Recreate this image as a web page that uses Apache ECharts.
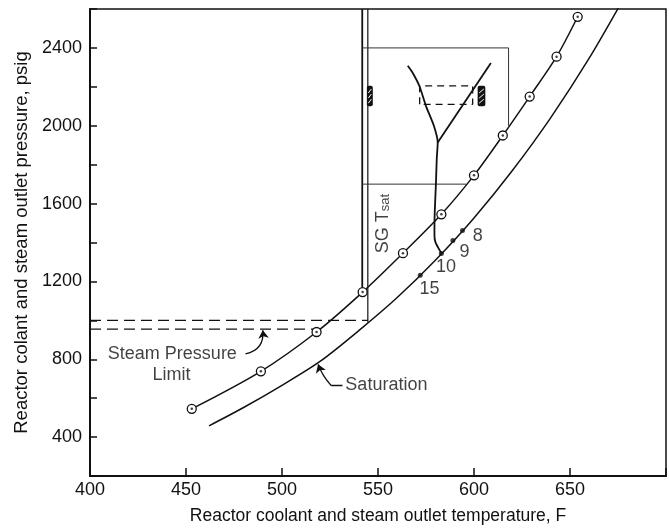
<!DOCTYPE html>
<html>
<head>
<meta charset="utf-8">
<script src="https://cdn.jsdelivr.net/npm/echarts@6/dist/echarts.min.js"></script>
<style>
  html, body { margin: 0; padding: 0; background: #fff; }
  #chart-wrapper { width: 669px; height: 530px; }
</style>
</head>
<body>
<div id="chart-wrapper"></div>
<script>
// reactor coolant outlet curve (circled points)
const upperTemp = [453, 489, 518, 542, 563, 583, 600, 615, 629, 643, 654];
const upperPress = [545, 738, 940, 1145, 1345, 1545, 1745, 1950, 2150, 2355, 2560];

// saturation curve
const satTemp = [462, 480, 500, 520, 540, 560, 580, 600, 620, 640, 660, 680];
const satPress = [458, 552, 666, 790, 947, 1117, 1310, 1526, 1770, 2042, 2347, 2690];

// run points on saturation curve
const runTemp = [572, 583, 589, 594];
const runPress = [1232, 1344, 1410, 1462];

// SG Tsat trace: trunk + left branch, then right branch
const sgLeftTemp = [583, 581.2, 579.8, 579.4, 579.5, 580.2, 580.6, 581.1, 579.1, 575, 571.6, 568.1, 565.5];
const sgLeftPress = [1344, 1376, 1405, 1440, 1540, 1710, 1830, 1914, 2000, 2101, 2203, 2271, 2308];
const sgRightTemp = [581.1, 608.8];
const sgRightPress = [1914, 2322];

// guide lines (solid)
const guideLeftTemp = [541.8, 541.8];
const guideLeftPress = [1145, 2600];
const guideRightTemp = [544.7, 544.7];
const guideRightPress = [990, 2600];
const boxTopTemp = [541.8, 618, 618];
const boxTopPress = [2400, 2400, 2000];
const boxMidTemp = [541.8, 596];
const boxMidPress = [1700, 1700];

// steam pressure limit (dashed)
const limitHiTemp = [400, 544.7];
const limitHiPress = [1000, 1000];
const limitLoTemp = [400, 518];
const limitLoPress = [955, 955];

// dashed window around SG branches
const windowTemp = [571.7, 571.7, 599.3, 599.3, 571.7];
const windowPress = [2110, 2205, 2205, 2110, 2110];

// hatched markers
const hatchT0 = [544.2, 601.9];
const hatchT1 = [547.3, 605.9];
const hatchP0 = [2100, 2100];
const hatchP1 = [2205, 2205];

// annotation texts
const noteText = ['Steam Pressure', 'Limit', 'Saturation', '15', '10', '9', '8'];
const noteTemp = [476.5, 442.5, 533, 576.8, 585.4, 595, 602];
const notePress = [828, 721, 670, 1161, 1276, 1352, 1434];
const noteAlign = ['right', 'center', 'left', 'center', 'center', 'center', 'center'];

const FONT = 'Liberation Sans, Arial, sans-serif';
const INK = '#111';

const zip = (a, b) => a.map((v, i) => [v, b[i]]);

const plainLine = (t, p, extra) =>
  Object.assign(
    {
      type: 'line',
      data: zip(t, p),
      symbol: 'none',
      silent: true,
      lineStyle: { color: INK, width: 1 },
    },
    extra || {}
  );

const chartDom = document.getElementById('chart-wrapper');
const chart = echarts.init(chartDom, null, { renderer: 'canvas' });

const option = {
  animation: false,
  backgroundColor: '#fff',
  textStyle: { fontFamily: FONT },
  grid: {
    left: 90,
    right: 2,
    top: 9,
    bottom: 51,
    show: true,
    borderColor: INK,
    borderWidth: 1.5,
  },
  xAxis: {
    type: 'value',
    min: 400,
    max: 700,
    interval: 50,
    name: 'Reactor coolant and steam outlet temperature, F',
    nameLocation: 'middle',
    nameGap: 31,
    nameTextStyle: { color: INK, fontSize: 17.5, fontFamily: FONT },
    axisLine: { show: true, onZero: false, lineStyle: { color: INK, width: 2 } },
    axisTick: { show: true, inside: true, length: 8, lineStyle: { color: INK, width: 1.5 } },
    axisLabel: {
      color: INK,
      fontSize: 18,
      margin: 5,
      fontFamily: FONT,
      formatter: (v) => (v < 700 ? String(v) : ''),
    },
    splitLine: { show: false },
  },
  yAxis: {
    type: 'value',
    min: 200,
    max: 2600,
    interval: 200,
    name: 'Reactor colant and steam outlet pressure, psig',
    nameLocation: 'middle',
    nameGap: 52,
    nameTextStyle: { color: INK, fontSize: 18.5, fontFamily: FONT },
    axisLine: { show: true, onZero: false, lineStyle: { color: INK, width: 2 } },
    axisTick: { show: true, inside: true, length: 7, lineStyle: { color: INK, width: 1.5 } },
    axisLabel: {
      color: INK,
      fontSize: 18,
      margin: 8,
      fontFamily: FONT,
      formatter: (v) => (v % 400 === 0 && v >= 400 && v <= 2400 ? String(v) : ''),
    },
    splitLine: { show: false },
  },
  series: [
    // guides
    plainLine(guideLeftTemp, guideLeftPress, { lineStyle: { color: INK, width: 1.8 } }),
    plainLine(guideRightTemp, guideRightPress, { lineStyle: { color: INK, width: 1.2 } }),
    plainLine(boxTopTemp, boxTopPress, { lineStyle: { color: '#333', width: 1 } }),
    plainLine(boxMidTemp, boxMidPress, { lineStyle: { color: '#333', width: 1 } }),
    plainLine(limitHiTemp, limitHiPress, { lineStyle: { color: INK, width: 1.3, type: [11, 6] } }),
    plainLine(limitLoTemp, limitLoPress, { lineStyle: { color: INK, width: 1.3, type: [11, 6] } }),
    plainLine(windowTemp, windowPress, { lineStyle: { color: INK, width: 1.3, type: [7, 5] } }),
    // saturation
    plainLine(satTemp, satPress, { smooth: 0.3, lineStyle: { color: INK, width: 1.5 } }),
    {
      type: 'scatter',
      data: zip(runTemp, runPress),
      symbol: 'circle',
      symbolSize: 5,
      itemStyle: { color: INK },
      silent: true,
    },
    // SG Tsat trace
    plainLine(sgLeftTemp, sgLeftPress, { smooth: 0.25, lineStyle: { color: INK, width: 1.8 } }),
    plainLine(sgRightTemp, sgRightPress, { lineStyle: { color: INK, width: 1.8 } }),
    // coolant outlet curve
    {
      type: 'line',
      data: zip(upperTemp, upperPress),
      smooth: 0.3,
      symbol: 'circle',
      symbolSize: 9,
      showAllSymbol: true,
      lineStyle: { color: INK, width: 1.5 },
      itemStyle: { color: '#fff', borderColor: INK, borderWidth: 1.3 },
      silent: true,
      z: 3,
    },
    {
      type: 'scatter',
      data: zip(upperTemp, upperPress),
      symbol: 'circle',
      symbolSize: 2.5,
      itemStyle: { color: INK },
      silent: true,
      z: 4,
    },
    // hatched markers
    {
      type: 'custom',
      silent: true,
      data: hatchT0.map((t, i) => [t, hatchT1[i], hatchP0[i], hatchP1[i]]),
      renderItem: (params, api) => {
        const a = api.coord([api.value(0), api.value(3)]);
        const b = api.coord([api.value(1), api.value(2)]);
        const w = b[0] - a[0];
        const h = b[1] - a[1];
        const stripes = [];
        for (let k = 1; k <= 3; k++) {
          const y = a[1] + (h * k) / 4;
          stripes.push({
            type: 'line',
            shape: { x1: a[0] + 1.5, y1: y + 2, x2: a[0] + w - 1.5, y2: y - 2 },
            style: { stroke: '#fff', lineWidth: 1 },
          });
        }
        return {
          type: 'group',
          children: [
            {
              type: 'rect',
              shape: { x: a[0], y: a[1], width: w, height: h, r: 2 },
              style: { fill: INK },
            },
          ].concat(stripes),
        };
      },
      z: 5,
    },
    // leaders
    {
      type: 'lines',
      coordinateSystem: 'cartesian2d',
      silent: true,
      symbol: ['none', 'arrow'],
      symbolSize: 8,
      lineStyle: { color: INK, width: 1.3, opacity: 1 },
      data: [
        { coords: [[481, 828], [490, 949]], lineStyle: { curveness: -0.45 } },
        { coords: [[525.6, 665], [518.8, 774]], lineStyle: { curveness: 0.1 } },
      ],
    },
    plainLine([525.6, 531.5], [665, 665], { lineStyle: { color: INK, width: 1.3 } }),
    // annotations
    {
      type: 'scatter',
      silent: true,
      symbolSize: 0,
      data: noteText
        .map((txt, i) => ({
          name: txt,
          value: [noteTemp[i], notePress[i]],
          label: { align: noteAlign[i] },
        }))
        .concat([
          {
            name: 'SG Tsat',
            value: [552.3, 1497],
            label: {
              rotate: 90,
              formatter: '{m|SG T}{s|sat}',
              rich: {
                m: { fontSize: 18, color: INK, fontFamily: FONT, verticalAlign: 'bottom' },
                s: { fontSize: 13, color: INK, fontFamily: FONT, verticalAlign: 'bottom', padding: [7, 0, 0, 0] },
              },
            },
          },
        ]),
      label: {
        show: true,
        position: 'inside',
        formatter: '{b}',
        color: INK,
        fontSize: 18,
        fontFamily: FONT,
      },
      z: 6,
    },
  ],
};

chart.setOption(option);
</script>
</body>
</html>
